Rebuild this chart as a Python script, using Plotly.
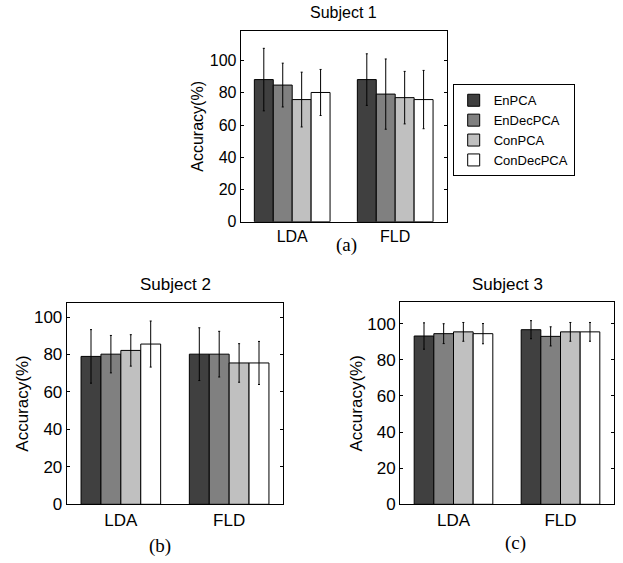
import plotly.graph_objects as go

W, H = 623, 563          # target picture size (positions below are in these pixels)
FIG_H = 573              # page height (the photo squeezes it back to 563)

methods = ["EnPCA", "EnDecPCA", "ConPCA", "ConDecPCA"]
classifiers = ["LDA", "FLD"]
colors = ["#404040", "#808080", "#c0c0c0", "#ffffff"]

s1_mean = {"EnPCA": [88.2, 88.2], "EnDecPCA": [84.8, 79.2], "ConPCA": [75.8, 77.0], "ConDecPCA": [80.2, 75.8]}
s1_err = {"EnPCA": [19.4, 16.0], "EnDecPCA": [13.6, 21.8], "ConPCA": [17.0, 16.3], "ConDecPCA": [14.3, 18.1]}
s2_mean = {"EnPCA": [79.0, 80.2], "EnDecPCA": [80.2, 80.2], "ConPCA": [82.2, 75.5], "ConDecPCA": [85.6, 75.5]}
s2_err = {"EnPCA": [14.3, 14.1], "EnDecPCA": [10.0, 12.2], "ConPCA": [8.4, 10.3], "ConDecPCA": [12.3, 11.5]}
s3_mean = {"EnPCA": [93.2, 96.7], "EnDecPCA": [94.5, 93.0], "ConPCA": [95.5, 95.5], "ConDecPCA": [94.5, 95.5]}
s3_err = {"EnPCA": [7.3, 5.0], "EnDecPCA": [5.5, 5.3], "ConPCA": [5.2, 5.2], "ConDecPCA": [5.6, 5.2]}

subject_titles = ["Subject 1", "Subject 2", "Subject 3"]
captions = ["(a)", "(b)", "(c)"]
yticks = [0, 20, 40, 60, 80, 100]

SANS = "Liberation Sans, Arial, sans-serif"
SERIF = "Liberation Serif, Times New Roman, serif"

boxes = [(240.7, 446.7, 31.0, 221.7), (66.7, 283.3, 302.7, 504.3), (400.0, 614.0, 302.3, 504.3)]
tick_sizes = [16, 17, 17]
standoffs = [2, 0, 0]

fig = go.Figure()
datasets = [(s1_mean, s1_err), (s2_mean, s2_err), (s3_mean, s3_err)]
for k, (means, errs) in enumerate(datasets):
    sfx = "" if k == 0 else str(k + 1)
    for m, c in zip(methods, colors):
        fig.add_trace(go.Bar(
            x=classifiers, y=means[m], name=m,
            marker=dict(color=c, line=dict(color="black", width=1)),
            error_y=dict(type="data", array=errs[m], color="black", thickness=1, width=1),
            xaxis="x" + sfx, yaxis="y" + sfx,
            showlegend=(k == 0), legendgroup=m,
        ))

layout = dict(
    width=W, height=FIG_H, margin=dict(l=0, r=0, t=0, b=0),
    paper_bgcolor="white", plot_bgcolor="white",
    barmode="group", bargap=0.265, bargroupgap=0,
    font=dict(family=SANS, color="black"),
    showlegend=True,
    legend=dict(x=452.7 / W, y=1 - 84.3 / H, xanchor="left", yanchor="top",
                bordercolor="black", borderwidth=1, bgcolor="white",
                font=dict(family=SANS, size=13),
                tracegroupgap=0, itemwidth=30),
)

annotations = []
for k, ((l, r, t, b), (means, errs)) in enumerate(zip(boxes, datasets)):
    sfx = "" if k == 0 else str(k + 1)
    ymax = 1.1 * max(mv + ev for m in methods for mv, ev in zip(means[m], errs[m]))
    layout["xaxis" + sfx] = dict(
        domain=[l / W, r / W], anchor="y" + sfx, type="category",
        range=[-0.5, 1.5], showline=True, linecolor="black", linewidth=1,
        mirror=True, ticks="", showgrid=False, zeroline=False,
        tickfont=dict(size=tick_sizes[k], family=SANS),
    )
    layout["yaxis" + sfx] = dict(
        domain=[1 - b / H, 1 - t / H], anchor="x" + sfx,
        range=[0, ymax], tickvals=yticks, showline=True, linecolor="black", linewidth=1,
        mirror="ticks", ticks="inside", ticklen=3, tickcolor="black",
        showgrid=False, zeroline=False,
        tickfont=dict(size=tick_sizes[k], family=SANS),
        title=dict(text="Accuracy(%)", font=dict(size=tick_sizes[k], family=SANS), standoff=standoffs[k]),
    )
    annotations.append(dict(text=subject_titles[k], xref="paper", yref="paper",
                            x=(l + r) / 2 / W, y=1 - (t - 18) / H, xanchor="center", yanchor="middle",
                            showarrow=False, font=dict(size=tick_sizes[k], family=SANS)))

cap_pos = [(346.7, 245.5), (160.0, 546.0), (515.0, 543.0)]
for cap, (cx, cy) in zip(captions, cap_pos):
    annotations.append(dict(text=cap, xref="paper", yref="paper", x=cx / W, y=1 - cy / H,
                            xanchor="center", yanchor="middle", showarrow=False,
                            font=dict(size=19, family=SERIF)))

layout["annotations"] = annotations
fig.update_layout(**layout)
fig.write_html("out.html", config={"displayModeBar": False},
               post_script="document.documentElement.style.margin='0';document.body.style.margin='0';document.body.style.overflow='hidden';")
